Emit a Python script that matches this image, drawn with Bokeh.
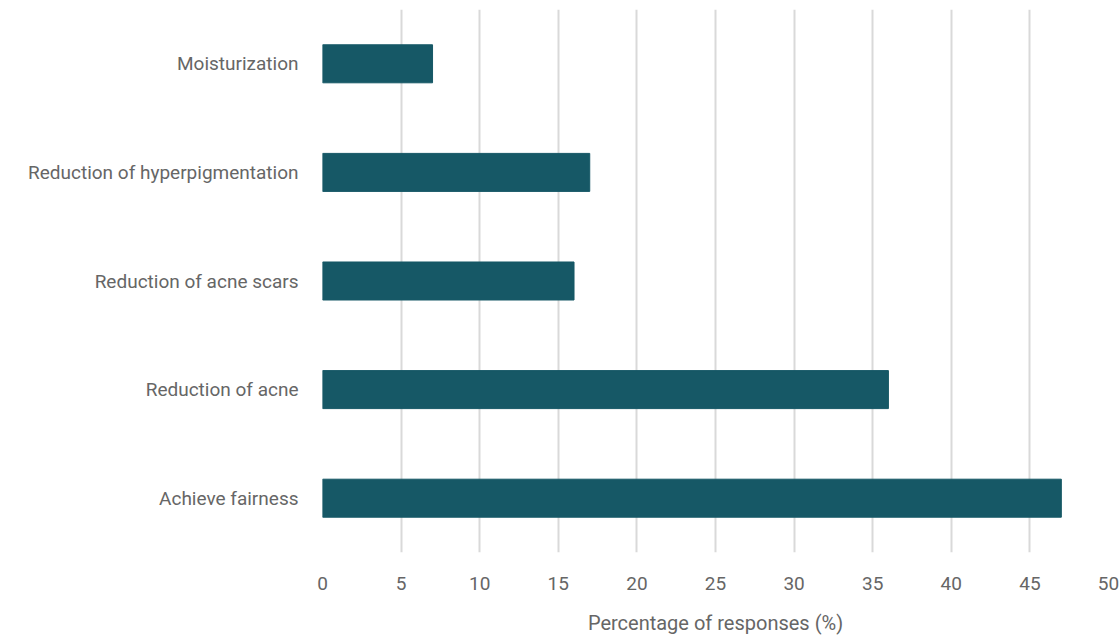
from bokeh.plotting import figure
from bokeh.models import ColumnDataSource, FactorRange
from bokeh.embed import file_html
from bokeh.resources import INLINE

categories = ["Moisturization", "Reduction of hyperpigmentation", "Reduction of acne scars",
              "Reduction of acne", "Achieve fairness"]
values = [7, 17, 16, 36, 47]
x_ticks = [0, 5, 10, 15, 20, 25, 30, 35, 40, 45, 50]

src = ColumnDataSource(dict(cat=categories, val=values))

p = figure(width=1119, height=639, output_backend="svg", toolbar_location=None,
           y_range=FactorRange(*reversed(categories), range_padding=0),
           x_range=(0, 50), min_border_left=322, min_border_top=9,
           min_border_bottom=87, min_border_right=11)

p.hbar(y="cat", right="val", left=0, height=0.35, source=src,
       fill_color="#165866", line_color="#165866")

font = "Roboto"
p.outline_line_color = None
p.ygrid.grid_line_color = None
p.xgrid.grid_line_color = "#d9d9d9"
p.xgrid.grid_line_width = 2
p.xaxis.ticker = x_ticks
p.xaxis.axis_line_color = None
p.xaxis.major_tick_line_color = None
p.xaxis.minor_tick_line_color = None
p.xaxis.major_label_text_font = font
p.xaxis.major_label_text_font_size = "19px"
p.xaxis.major_label_text_color = "#666666"
p.xaxis.major_label_standoff = 18
p.xaxis.axis_label = "Percentage of responses (%)"
p.xaxis.axis_label_text_font = font
p.xaxis.axis_label_text_font_style = "normal"
p.xaxis.axis_label_text_font_size = "20px"
p.xaxis.axis_label_text_color = "#666666"
p.xaxis.axis_label_standoff = 18

p.yaxis.axis_line_color = None
p.yaxis.major_tick_line_color = None
p.yaxis.minor_tick_line_color = None
p.yaxis.major_label_text_font = font
p.yaxis.major_label_text_font_size = "19px"
p.yaxis.major_label_text_color = "#666666"
p.yaxis.major_label_standoff = 18

open("out.html", "w").write(file_html(p, INLINE))
